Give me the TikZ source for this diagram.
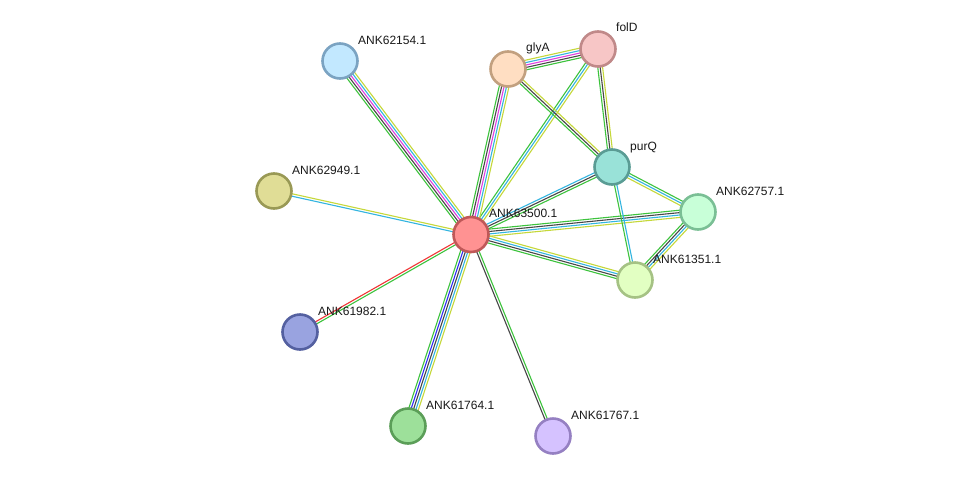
\documentclass[tikz,border=0pt]{standalone}
\usepackage{fontspec}
\setmainfont{Liberation Sans}
\usetikzlibrary{calc,backgrounds}
\definecolor{cgreen}{HTML}{3DC33D}
\definecolor{cblack}{HTML}{474747}
\definecolor{cmag}{HTML}{E040E0}
\definecolor{ccyan}{HTML}{33B5E0}
\definecolor{cyel}{HTML}{C5D83A}
\definecolor{cred}{HTML}{F03535}
\definecolor{cblue}{HTML}{2E2EF0}
\tikzset{
  prot/.style={circle, draw, line width=2.6pt, minimum size=35pt, inner sep=0pt},
  lbl/.style={anchor=base west, inner sep=0pt, font=\fontsize{12}{14}\selectfont, text=black!90},
  eline/.style={line width=1.1pt},
}
\newcommand\medge[4]{%
  \foreach \col [count=\i] in {#4}{%
    \pgfmathsetmacro\off{((#3+1)/2-\i)*2.4}%
    \draw[eline,color=\col] ($(#1)!\off pt!90:(#2)$) -- ($(#2)!\off pt!-90:(#1)$);
  }}
\begin{document}
\begin{tikzpicture}[x=1pt,y=-1pt]
\useasboundingbox (0,0) rectangle (976,482);
% nodes
\node[prot, fill={rgb,255:red,255;green,146;blue,146}, draw={rgb,255:red,192;green,88;blue,88}] (n63500) at (471,234.5) {};
\node[prot, fill={rgb,255:red,194;green,232;blue,255}, draw={rgb,255:red,123;green,163;blue,194}] (n62154) at (340,61) {};
\node[prot, fill={rgb,255:red,255;green,222;blue,194}, draw={rgb,255:red,194;green,160;blue,127}] (glyA) at (508,69) {};
\node[prot, fill={rgb,255:red,247;green,198;blue,198}, draw={rgb,255:red,192;green,137;blue,137}] (folD) at (598,49) {};
\node[prot, fill={rgb,255:red,153;green,226;blue,216}, draw={rgb,255:red,90;green,156;blue,148}] (purQ) at (612,167) {};
\node[prot, fill={rgb,255:red,200;green,255;blue,216}, draw={rgb,255:red,122;green,191;blue,149}] (n62757) at (698,212) {};
\node[prot, fill={rgb,255:red,226;green,255;blue,194}, draw={rgb,255:red,165;green,194;blue,132}] (n61351) at (635,280) {};
\node[prot, fill={rgb,255:red,224;green,221;blue,150}, draw={rgb,255:red,153;green,153;blue,85}] (n62949) at (274,191) {};
\node[prot, fill={rgb,255:red,153;green,163;blue,224}, draw={rgb,255:red,84;green,96;blue,160}] (n61982) at (300,332) {};
\node[prot, fill={rgb,255:red,157;green,224;blue,154}, draw={rgb,255:red,91;green,158;blue,88}] (n61764) at (408,426) {};
\node[prot, fill={rgb,255:red,213;green,194;blue,255}, draw={rgb,255:red,149;green,128;blue,194}] (n61767) at (553,436) {};
% labels
\node[lbl] (l63500) at (489,217.5) {ANK63500.1};
\node[lbl] (l62154) at (358,44.5) {ANK62154.1};
\node[lbl] (lglyA) at (526,51.5) {glyA};
\node[lbl] (lfolD) at (616,31.5) {folD};
\node[lbl] (lpurQ) at (630,150) {purQ};
\node[lbl] (l62757) at (716,195) {ANK62757.1};
\node[lbl] (l61351) at (653,263) {ANK61351.1};
\node[lbl] (l62949) at (292,174) {ANK62949.1};
\node[lbl] (l61982) at (318,315) {ANK61982.1};
\node[lbl] (l61764) at (426,409) {ANK61764.1};
\node[lbl] (l61767) at (571,419) {ANK61767.1};
% edges
\begin{pgfonlayer}{background}
\fill[white] (0,0) rectangle (976,482);
\medge{n63500}{n62154}{5}{cgreen,cblack,cmag,ccyan,cyel}
\medge{n63500}{n62949}{2}{ccyan,cyel}
\medge{n63500}{n61982}{2}{cgreen,cred}
\medge{n63500}{n61764}{5}{cyel,ccyan,cblack,cblue,cgreen}
\medge{n63500}{n61767}{2}{cgreen,cblack}
\medge{n63500}{n61351}{4}{cyel,ccyan,cblack,cgreen}
\medge{n63500}{n62757}{4}{cgreen,cblack,ccyan,cyel}
\medge{n63500}{purQ}{3}{ccyan,cblack,cgreen}
\medge{n63500}{folD}{3}{cgreen,ccyan,cyel}
\medge{n63500}{glyA}{5}{cgreen,cblack,cmag,ccyan,cyel}
\medge{glyA}{folD}{5}{cyel,ccyan,cmag,cblack,cgreen}
\medge{glyA}{purQ}{3}{cyel,cblack,cgreen}
\medge{folD}{purQ}{3}{cyel,cblack,cgreen}
\medge{purQ}{n62757}{3}{cgreen,ccyan,cyel}
\medge{purQ}{n61351}{2}{ccyan,cgreen}
\medge{n62757}{n61351}{4}{cyel,ccyan,cblack,cgreen}
\end{pgfonlayer}
\end{tikzpicture}
\end{document}
